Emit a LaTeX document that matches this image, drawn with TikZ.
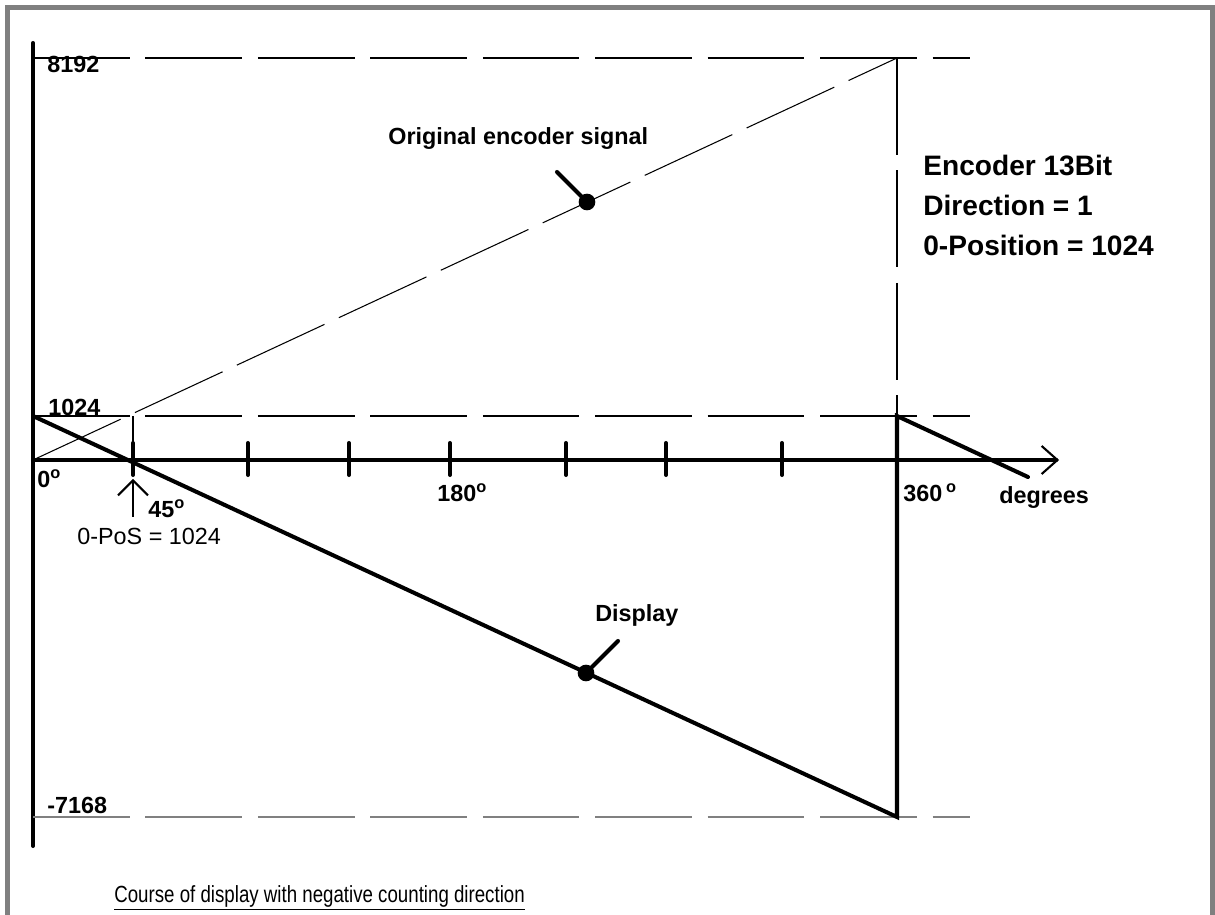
\documentclass[tikz,border=0pt]{standalone}
\usepackage{fontspec}
\setmainfont{Liberation Sans}
\newfontfamily\narrowfont[FakeStretch=0.8]{Liberation Sans}
\usetikzlibrary{arrows.meta}

\begin{document}
\begin{tikzpicture}[
    x=0.02cm, y=-0.02cm,
    frame/.style={draw=gray, line width=2.8pt},
    axis/.style={line width=2.3pt, line cap=round},
    guide/.style={line width=0.6pt, dash pattern=on 55pt off 9pt},
    display/.style={line width=2.3pt, line join=miter, line cap=round},
    tick/.style={line width=2.3pt, line cap=round},
    pointer/.style={line width=2.3pt, line cap=round},
    dot/.style={circle, fill=black, inner sep=0pt, minimum size=9.5pt},
    label/.style={font=\bfseries\fontsize{13.3}{16}\selectfont, inner sep=0pt, anchor=base west},
    plain/.style={font=\fontsize{13.3}{16}\selectfont, inner sep=0pt, anchor=base west},
    info/.style={font=\bfseries\fontsize{16}{19}\selectfont, inner sep=0pt, anchor=base west}
]
    \useasboundingbox (0,0) rectangle (1215,915);
    \draw[frame] (7.5,915) -- (7.5,7.5) -- (1212.5,7.5) -- (1212.5,915);

    % axes
    \coordinate (ytop) at (33,43);
    \coordinate (ybot) at (33,846);
    \coordinate (origin) at (33,460);
    \coordinate (xend) at (1059,460);
    \draw[axis] (ytop) -- (ybot);
    \draw[axis, -{Straight Barb[length=9pt, width=16pt, line width=1.2pt]}] (origin) -- (xend);
    \foreach \x in {133,248,349,450,566,666,782}
        \draw[tick] (\x,443) -- (\x,475);

    % guide lines
    \coordinate (h8192) at (33,58);
    \coordinate (e8192) at (970,58);
    \coordinate (h1024) at (33,416);
    \coordinate (e1024) at (970,416);
    \coordinate (h7168) at (33,817);
    \coordinate (e7168) at (970,817);
    \coordinate (top360) at (897,58);
    \coordinate (mid360) at (897,416);
    \coordinate (bot360) at (897,817);
    \coordinate (mark45) at (133,416);
    \coordinate (axis45) at (133,460);
    \draw[guide] (h8192) -- (e8192);
    \draw[guide] (h1024) -- (e1024);
    \draw[guide, draw=gray] (h7168) -- (e7168);
    \draw[guide] (top360) -- (mid360);
    \draw[guide] (origin) -- (top360);
    \draw[line width=0.6pt] (mark45) -- (axis45);

    % display course
    \coordinate (wrap) at (1028,477);
    \draw[display] (h1024) -- (bot360) -- (mid360) -- (wrap);

    % pointers
    \node[dot] (sdot) at (587,202) {};
    \coordinate (stail) at (557,172);
    \draw[pointer] (sdot.center) -- (stail);
    \node[dot] (ddot) at (586,673) {};
    \coordinate (dtail) at (618,641);
    \draw[pointer] (ddot.center) -- (dtail);

    % zero position arrow
    \coordinate (posfoot) at (133,517);
    \coordinate (poshead) at (133,479);
    \draw[line width=1.2pt, -{Straight Barb[length=8.5pt, width=17pt]}] (posfoot) -- (poshead);

    % labels
    \node[label] (l8192) at (47,73) {8192};
    \node[label] (l1024) at (48,416) {1024};
    \node[label] (l7168) at (47,813) {-7168};
    \node[label] (l0) at (37,488) {0\textsuperscript{o}};
    \node[label] (l45) at (148,518) {45\textsuperscript{o}};
    \node[plain] (lpos) at (77,545) {0-PoS = 1024};
    \node[label] (l180) at (437,502) {180\textsuperscript{o}};
    \node[label] (l360) at (903,502) {360\,\textsuperscript{o}};
    \node[label] (ldeg) at (999,504) {degrees};
    \node[label] (lsig) at (388,145) {Original encoder signal};
    \node[label] (ldisp) at (595,622) {Display};
    \node[info] (enc) at (923,176) {Encoder 13Bit};
    \node[info] (dir) at (923,216) {Direction = 1};
    \node[info] (zpos) at (923,256) {0-Position = 1024};
    \node[anchor=base west, inner sep=0pt, font=\narrowfont\fontsize{13.3}{16}\selectfont] (caption) at (114,902)
        {\underline{Course of display with negative counting direction}};
\end{tikzpicture}
\end{document}
